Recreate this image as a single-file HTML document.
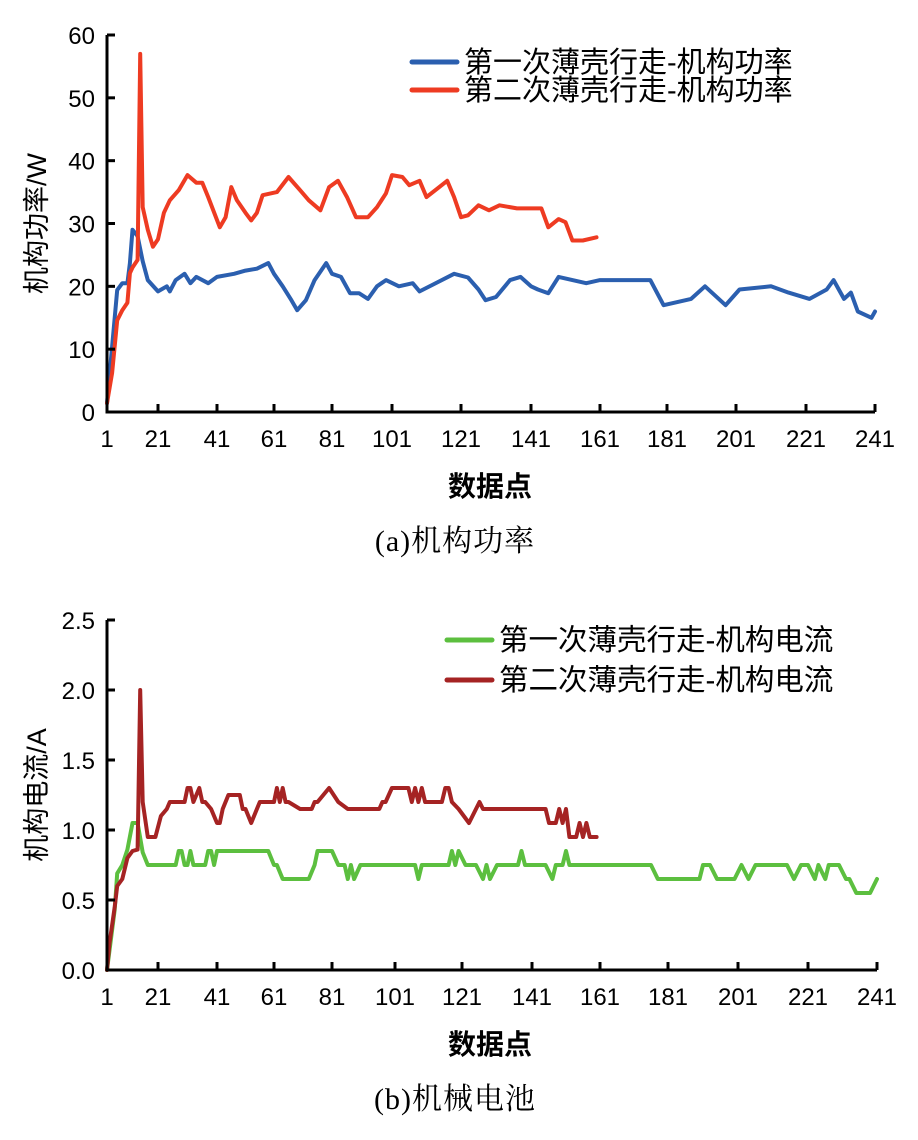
<!DOCTYPE html>
<html><head><meta charset="utf-8"><style>
body{margin:0;background:#fff;}
svg{display:block;font-family:"Liberation Sans","Noto Sans CJK SC",sans-serif;}
</style></head><body>
<svg id="svg" width="918" height="1140" viewBox="0 0 918 1140"></svg>
<script>
const xTickLabels=[1,21,41,61,81,101,121,141,161,181,201,221,241];
const powerYTicks=[0,10,20,30,40,50,60];
const currentYTicks=["0.0","0.5","1.0","1.5","2.0","2.5"];
const p1Idx=[1,3,5,7,9,10,11,13,15,17,21,24,25,27,30,32,34,38,41,47,51,55,59,61,64,67,69,72,75,79,81,84,87,90,93,96,99,103,107,109,113,119,123,126,128,131,135,138,141,143,146,149,153,157,161,165,176,180,188,192,198,202,211,216,222,227,229,232,234,236,240,241];
const p1Val=[1.4,10.4,19.4,20.5,20.5,23.7,29,28,24,21,19.2,20,19.2,21,22,20.5,21.5,20.5,21.5,22,22.5,22.8,23.7,22,20,17.8,16.2,17.8,21,23.7,22,21.5,18.9,18.9,18,20,21,20,20.5,19.2,20.3,22,21.4,19.5,17.8,18.3,21,21.5,20,19.5,18.9,21.5,21,20.5,21,21,21,17,18,20,17,19.5,20,19,18,19.5,21,18,19,16,15,16];
const p2Idx=[1,3,5,7,9,10,11,13,14,15,17,19,21,23,25,28,31,34,36,38,42,44,46,48,51,53,55,57,62,66,70,73,77,80,83,86,89,93,96,99,101,104,106,109,111,114,117,119,121,123,126,129,132,137,142,144,146,149,151,153,156,160];
const p2Val=[1.4,6.2,14.6,16.2,17.4,22.1,23,24.2,57,32.6,29,26.3,27.5,31.7,33.7,35.3,37.7,36.5,36.5,34.2,29.4,31,35.8,33.7,31.7,30.5,31.7,34.5,35,37.4,35.3,33.7,32.1,35.8,36.8,34.2,31,31,32.6,34.8,37.7,37.4,36.1,36.8,34.2,35.5,36.8,34.2,31,31.3,32.9,32.1,32.9,32.4,32.4,32.4,29.4,30.7,30.2,27.3,27.3,27.8];
const c1Idx=[1,4,5,7,9,11,13,15,17,27,28,29,30,31,32,33,37,38,39,40,41,59,61,62,64,73,75,76,81,83,85,86,87,88,90,107,108,109,117,118,119,120,122,125,127,128,129,131,137,138,139,145,147,148,150,151,152,176,178,190,191,193,195,200,202,204,206,215,217,219,221,223,224,226,227,230,232,233,235,239,241];
const c1Val=[0,0.43,0.69,0.75,0.86,1.05,1.05,0.84,0.75,0.75,0.85,0.85,0.75,0.75,0.85,0.75,0.75,0.85,0.85,0.75,0.85,0.85,0.75,0.75,0.65,0.65,0.75,0.85,0.85,0.75,0.75,0.65,0.75,0.65,0.75,0.75,0.65,0.75,0.75,0.85,0.75,0.85,0.75,0.75,0.65,0.75,0.65,0.75,0.75,0.85,0.75,0.75,0.65,0.75,0.75,0.85,0.75,0.75,0.65,0.65,0.75,0.75,0.65,0.65,0.75,0.65,0.75,0.75,0.65,0.75,0.75,0.65,0.75,0.65,0.75,0.75,0.65,0.65,0.55,0.55,0.65];
const c2Idx=[1,2,4,5,7,9,11,13,14,15,17,20,22,24,25,30,31,32,33,35,36,37,39,41,42,43,45,49,50,51,53,55,56,61,62,63,64,65,66,70,74,75,76,80,83,86,96,97,98,100,105,106,107,108,109,110,115,116,117,118,120,123,125,126,127,145,146,148,149,150,151,152,154,155,156,157,158,160];
const c2Val=[0,0.19,0.45,0.6,0.65,0.8,0.85,0.86,2.0,1.2,0.95,0.95,1.1,1.15,1.2,1.2,1.3,1.3,1.2,1.3,1.2,1.2,1.15,1.05,1.05,1.15,1.25,1.25,1.15,1.15,1.05,1.15,1.2,1.2,1.3,1.2,1.3,1.2,1.2,1.15,1.15,1.2,1.2,1.3,1.2,1.15,1.15,1.2,1.2,1.3,1.3,1.2,1.3,1.2,1.3,1.2,1.2,1.3,1.3,1.2,1.15,1.05,1.15,1.2,1.15,1.15,1.05,1.05,1.15,1.05,1.15,0.95,0.95,1.05,0.95,1.05,0.95,0.95];

const NS="http://www.w3.org/2000/svg";
const svg=document.getElementById('svg');
function mk(tag,attrs,parent){const e=document.createElementNS(NS,tag);for(const k in attrs)e.setAttribute(k,attrs[k]);(parent||svg).appendChild(e);return e;}
function makeX(px){return function(i){for(let k=0;k<xTickLabels.length-1;k++){const a=xTickLabels[k],b=xTickLabels[k+1];if(i<=b||k===xTickLabels.length-2){return px[k]+(i-a)/(b-a)*(px[k+1]-px[k]);}}};}
function chart(o){
  const g=mk('g',{});
  
  
  const X=makeX(o.xpx);
  const Y=v=>o.y0-(v-o.ymin)/(o.ymax-o.ymin)*(o.y0-o.y1);
  const x0=o.xpx[0],xe=o.xpx[o.xpx.length-1];
  o.series.forEach(s=>{
    const d=s.idx.map((i,k)=>(k?'L':'M')+X(i).toFixed(1)+','+Y(s.val[k]).toFixed(1)).join('');
    const p=mk('path',{d:d,fill:'none',stroke:s.color,'stroke-width':4,'stroke-linejoin':'round','stroke-linecap':'round'},g);
    
    
  });
  const ax=mk('path',{d:`M${x0},${o.y1}V${o.y0}H${xe}`,fill:'none',stroke:'#000','stroke-width':3},g);
  
  
  xTickLabels.forEach(t=>{
    const x=X(t);
    mk('line',{x1:x,x2:x,y1:o.y0,y2:o.y0-8,stroke:'#000','stroke-width':3},g);
    const tx=mk('text',{x:x,y:o.y0+35,'font-size':24,'text-anchor':'middle'},g);
    tx.textContent=t;
    
    
  });
  o.yticks.forEach(t=>{
    const y=Y(parseFloat(t));
    mk('line',{x1:x0,x2:x0+8,y1:y,y2:y,stroke:'#000','stroke-width':3},g);
    const tx=mk('text',{x:x0-12,y:y+9,'font-size':24,'text-anchor':'end'},g);
    tx.textContent=t;
    
    
  });
  const yt=mk('text',{x:0,y:0,'font-size':27,'text-anchor':'middle',transform:`translate(46,${(o.y0+o.y1)/2}) rotate(-90)`},g);
  yt.textContent=o.ytitle;
  
  
  const xt=mk('text',{x:490,y:o.y0+84,'font-size':28,'font-weight':'bold','text-anchor':'middle'},g);
  xt.textContent='数据点';
  
  
  const cp=mk('text',{x:455,y:o.y0+139,'font-size':30,'text-anchor':'middle','letter-spacing':'1','font-family':'"Liberation Serif","Noto Serif CJK SC",serif'},g);
  cp.textContent=o.caption;
  
  
  o.series.forEach((s,k)=>{
    const ly=o.legY+k*o.legGap;
    const l=mk('line',{x1:o.legX,x2:o.legX+45,y1:ly,y2:ly,stroke:s.color,'stroke-width':5,'stroke-linecap':'round'},g);
    
    
    const t=mk('text',{x:o.legX+52,y:ly+10,'font-size':o.legFont},g);
    t.textContent=s.label;
    
    
  });
}
chart({name:'power-chart',xpx:[107,158,217,274,332,392,461,531,600,667,736,806,875],y0:412,y1:35,ymin:0,ymax:60,yticks:powerYTicks.map(String),
  ytitle:'机构功率/W',caption:'(a)机构功率',legX:412,legY:62,legGap:28,legFont:29,
  series:[{name:'series-first-power',idx:p1Idx,val:p1Val,color:'#2b5faf',label:'第一次薄壳行走-机构功率'},
          {name:'series-second-power',idx:p2Idx,val:p2Val,color:'#ee3b22',label:'第二次薄壳行走-机构功率'}]});
chart({name:'current-chart',xpx:[107,158,217,274,332,395,462,532,600,668,738,808,877],y0:970,y1:620,ymin:0,ymax:2.5,yticks:currentYTicks,
  ytitle:'机构电流/A',caption:'(b)机械电池',legX:447,legY:640,legGap:40,legFont:29.5,
  series:[{name:'series-first-current',idx:c1Idx,val:c1Val,color:'#5cbf3f',label:'第一次薄壳行走-机构电流'},
          {name:'series-second-current',idx:c2Idx,val:c2Val,color:'#a52323',label:'第二次薄壳行走-机构电流'}]});
</script>
</body></html>
